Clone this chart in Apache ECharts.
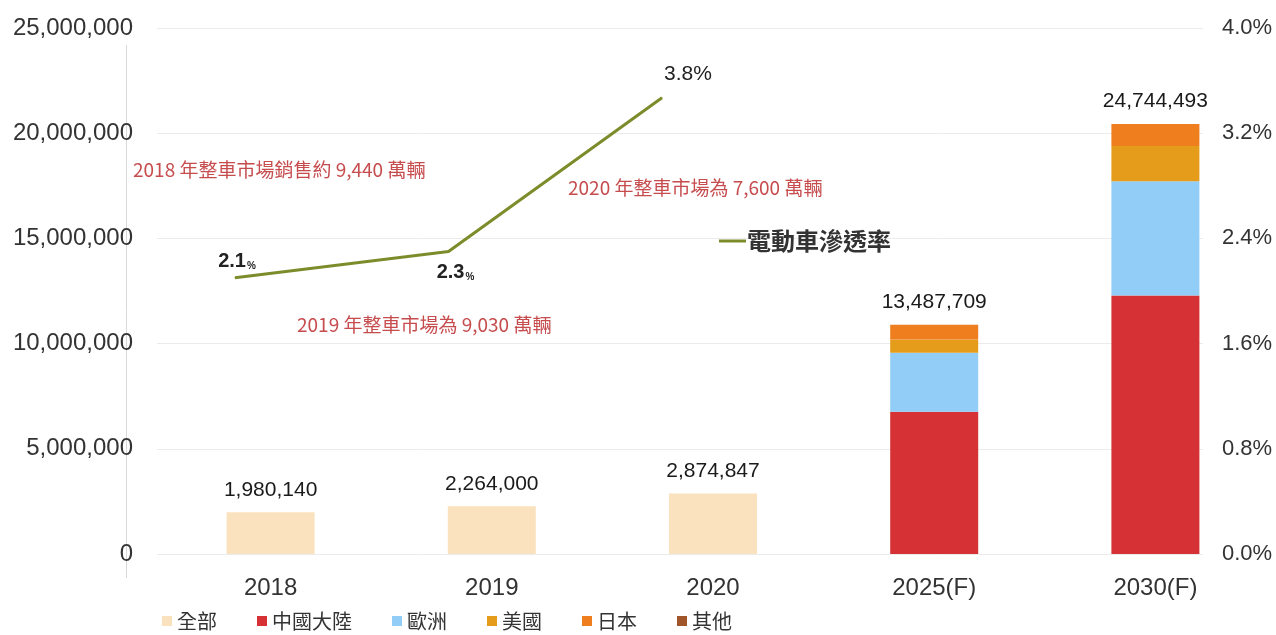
<!DOCTYPE html>
<html>
<head>
<meta charset="utf-8">
<script src="https://cdn.jsdelivr.net/npm/echarts@6/dist/echarts.min.js"></script>
<style>
html,body{margin:0;padding:0;background:#fff;}
#chart{width:1276px;height:635px;}
</style>
</head>
<body>
<div id="chart"></div>
<script>
// ---- data ----
const categories = ['2018', '2019', '2020', '2025(F)', '2030(F)'];
const seriesNames = ['全部', '中國大陸', '歐洲', '美國', '日本', '其他'];
const allValues    = [1980140, 2264000, 2874847, null, null];
const chinaValues  = [null, null, null, 6760000, 12290000];
const europeValues = [null, null, null, 2810000, 5430000];
const usaValues    = [null, null, null, 620000, 1670000];
const japanValues  = [null, null, null, 710000, 1050000];
const otherValues  = [null, null, null, 0, 0];
const totalLabels  = ['1,980,140', '2,264,000', '2,874,847', '13,487,709', '24,744,493'];

const rateCategories = ['2018', '2019', '2020'];
const rateValues = [2.1, 2.3, 3.47];
const rateLabels = ['2.1', '2.3', '3.8'];
const rateName = '電動車滲透率';

const leftTicks = [0, 5000000, 10000000, 15000000, 20000000, 25000000];
const rightTicks = [0, 0.8, 1.6, 2.4, 3.2, 4.0];

const notes = [
  '2018 年整車市場銷售約 9,440 萬輛',
  '2020 年整車市場為 7,600 萬輛',
  '2019 年整車市場為 9,030 萬輛'
];

// ---- styles ----
const colors = ['#fbe2bf', '#d63134', '#91cdf7', '#e49c1a', '#ee7e1e', '#a0562a'];
const FONT = "'Liberation Sans','Noto Sans CJK TC',sans-serif";
const CJK = "'Noto Sans CJK TC','Liberation Sans',sans-serif";

const valueSets = [allValues, chinaValues, europeValues, usaValues, japanValues, otherValues];

// top-most visible segment per category carries the total label
const topIndex = categories.map((c, i) => {
  let t = 0;
  valueSets.forEach((vs, s) => { if (vs[i] != null && vs[i] > 0) t = s; });
  return t;
});

const barSeries = seriesNames.map((name, s) => ({
  name: name,
  type: 'bar',
  stack: 'total',
  xAxisIndex: 0,
  yAxisIndex: 0,
  barWidth: 88,
  itemStyle: { color: colors[s] },
  data: valueSets[s].map((v, i) => {
    const item = { value: v };
    if (topIndex[i] === s) {
      item.label = {
        show: true,
        position: 'top',
        distance: 12,
        formatter: totalLabels[i],
        fontFamily: FONT,
        fontSize: 21,
        color: '#1a1a1a'
      };
    }
    return item;
  })
}));

const lineLabelCfg = [
  { position: 'top', distance: 6, offset: [2, 0] },
  { position: 'bottom', distance: 10, offset: [7, 0] },
  { position: 'top', distance: 6, offset: [26, -6] }
];

const lineSeries = {
  name: rateName,
  type: 'line',
  xAxisIndex: 2,
  yAxisIndex: 3,
  symbol: 'circle',
  symbolSize: 1,
  showSymbol: true,
  lineStyle: { color: '#7d8c2a', width: 3 },
  itemStyle: { color: '#7d8c2a' },
  data: rateValues.map((v, i) => ({
    value: v,
    label: {
      show: true,
      position: lineLabelCfg[i].position,
      distance: lineLabelCfg[i].distance,
      offset: lineLabelCfg[i].offset,
      formatter: i < 2 ? '{a|' + rateLabels[i] + '}{b|%}' : '{c|' + rateLabels[i] + '%}',
      rich: {
        a: { fontFamily: FONT, fontSize: 20, fontWeight: 'bold', color: '#222' },
        b: { fontFamily: FONT, fontSize: 10, fontWeight: 'bold', color: '#222', verticalAlign: 'bottom', padding: [6, 0, 0, 1] },
        c: { fontFamily: FONT, fontSize: 21, color: '#222' }
      }
    }
  }))
};

const option = {
  animation: false,
  backgroundColor: '#ffffff',
  grid: [
    { left: 160, right: 10, top: 28, bottom: 81 },   // bars
    { left: 157, right: 73, top: 28, bottom: 81 },   // gridlines and value axes
    { left: 235, right: 614, top: 28, bottom: 81 }   // penetration line
  ],
  legend: [
    {
      data: seriesNames,
      left: 157,
      top: 606,
      icon: 'rect',
      itemWidth: 10,
      itemHeight: 10,
      itemGap: 40,
      textStyle: { fontFamily: CJK, fontSize: 20, color: '#333' }
    },
    {
      data: [rateName],
      left: 714,
      top: 224,
      icon: 'rect',
      itemWidth: 27,
      itemHeight: 3,
      itemGap: 2,
      textStyle: { fontFamily: CJK, fontSize: 24, fontWeight: 'bold', color: '#333', padding: [0, 0, 0, -4] }
    }
  ],
  xAxis: [
    {
      type: 'category',
      gridIndex: 0,
      data: categories,
      axisLine: { show: false },
      axisTick: { show: false },
      axisLabel: { margin: 22, fontFamily: FONT, fontSize: 24, color: '#333' }
    },
    { type: 'category', gridIndex: 1, data: categories, show: false },
    { type: 'category', gridIndex: 2, data: rateCategories, boundaryGap: false, show: false }
  ],
  yAxis: [
    {
      type: 'value',
      gridIndex: 0,
      min: leftTicks[0],
      max: leftTicks[leftTicks.length - 1],
      interval: leftTicks[1] - leftTicks[0],
      show: false
    },
    {
      type: 'value',
      gridIndex: 1,
      position: 'left',
      min: leftTicks[0],
      max: leftTicks[leftTicks.length - 1],
      interval: leftTicks[1] - leftTicks[0],
      axisLine: { show: false },
      axisTick: { show: false },
      splitLine: { show: true, lineStyle: { color: '#ebebeb', width: 1 } },
      axisLabel: {
        margin: 24,
        fontFamily: FONT,
        fontSize: 24,
        color: '#333',
        formatter: v => v.toLocaleString('en-US')
      }
    },
    {
      type: 'value',
      gridIndex: 1,
      position: 'right',
      min: rightTicks[0],
      max: rightTicks[rightTicks.length - 1],
      interval: 0.8,
      axisLine: { show: false },
      axisTick: { show: false },
      splitLine: { show: false },
      axisLabel: {
        margin: 19,
        fontFamily: FONT,
        fontSize: 22,
        color: '#333',
        formatter: v => v.toFixed(1) + '%'
      }
    },
    {
      type: 'value',
      gridIndex: 2,
      min: rightTicks[0],
      max: rightTicks[rightTicks.length - 1],
      show: false
    }
  ],
  graphic: [
    {
      type: 'line',
      shape: { x1: 126.5, y1: 45, x2: 126.5, y2: 578 },
      style: { stroke: '#d8d8d8', lineWidth: 1 },
      silent: true
    },
    {
      type: 'text', x: 133, y: 170,
      style: { text: notes[0], fill: '#c64c4e', font: "19px " + CJK, verticalAlign: 'middle' }
    },
    {
      type: 'text', x: 568, y: 188,
      style: { text: notes[1], fill: '#c64c4e', font: "19px " + CJK, verticalAlign: 'middle' }
    },
    {
      type: 'text', x: 297, y: 325,
      style: { text: notes[2], fill: '#c64c4e', font: "19px " + CJK, verticalAlign: 'middle' }
    }
  ],
  series: barSeries.concat([lineSeries])
};

const chart = echarts.init(document.getElementById('chart'), null, { renderer: 'canvas' });
chart.setOption(option);
</script>
</body>
</html>
